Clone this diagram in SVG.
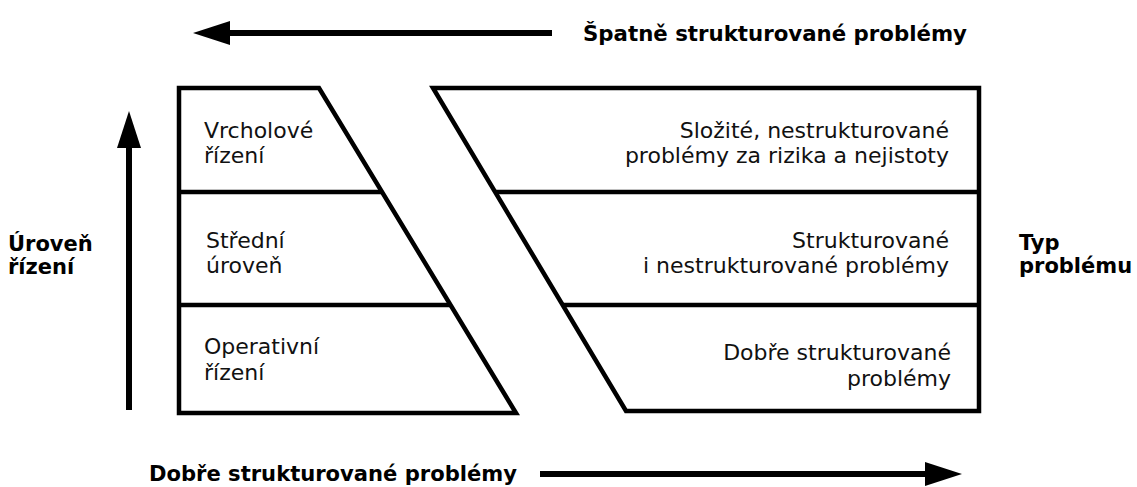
<svg xmlns="http://www.w3.org/2000/svg" width="1137" height="487" viewBox="0 0 1137 487">
<style>
.shape{fill:none;stroke:#000;stroke-width:4.5;stroke-linejoin:miter}
.div{stroke:#000;stroke-width:4.5}
.t{font-family:"DejaVu Sans",Verdana,sans-serif;font-size:22px;fill:#111}
.b{font-family:"DejaVu Sans","Liberation Sans",sans-serif;font-size:21px;font-weight:bold;fill:#000}
.ar{stroke:#000;stroke-width:6}
.r{text-anchor:end}
</style>
<defs>
<marker id="ah" viewBox="0 0 37 24" refX="0" refY="12" markerWidth="37" markerHeight="24" orient="auto" markerUnits="userSpaceOnUse">
<path d="M0,0 L37,12 L0,24 Z" fill="#000"/>
</marker>
</defs>
<rect width="1137" height="487" fill="#fff"/>
<g id="left-shape">
<path class="shape" d="M179,88 H319 L516,413 H179 Z"/>
<line class="div" x1="179" y1="192" x2="382" y2="192"/>
<line class="div" x1="179" y1="305" x2="450" y2="305"/>
</g>
<g id="right-shape">
<path class="shape" d="M433,88 H979 V411 H626 Z"/>
<line class="div" x1="495" y1="192" x2="979" y2="192"/>
<line class="div" x1="563" y1="305" x2="979" y2="305"/>
</g>
<g id="vrcholove">
<text class="t" x="204" y="138">Vrcholové</text>
<text class="t" x="204" y="163">řízení</text>
</g>
<g id="stredni">
<text class="t" x="206" y="248">Střední</text>
<text class="t" x="206" y="273">úroveň</text>
</g>
<g id="operativni">
<text class="t" x="204" y="354">Operativní</text>
<text class="t" x="204" y="380">řízení</text>
</g>
<g id="slozite">
<text class="t r" x="949" y="138">Složité, nestrukturované</text>
<text class="t r" x="949" y="163">problémy za rizika a nejistoty</text>
</g>
<g id="strukturovane">
<text class="t r" x="949" y="248">Strukturované</text>
<text class="t r" x="949" y="273">i nestrukturované problémy</text>
</g>
<g id="dobre">
<text class="t r" x="951" y="360">Dobře strukturované</text>
<text class="t r" x="951" y="386">problémy</text>
</g>
<g id="connectors">
<line class="ar" x1="552" y1="33" x2="230" y2="33" marker-end="url(#ah)"/>
<line class="ar" x1="540" y1="474" x2="925" y2="474" marker-end="url(#ah)"/>
<line class="ar" x1="129" y1="410" x2="129" y2="148" marker-end="url(#ah)"/>
</g>
<g id="labels">
<text class="b" x="583" y="41" textLength="384" lengthAdjust="spacingAndGlyphs">Špatně strukturované problémy</text>
<text class="b" x="149" y="481" textLength="368" lengthAdjust="spacingAndGlyphs">Dobře strukturované problémy</text>
<text class="b" x="8" y="251">Úroveň</text>
<text class="b" x="8" y="274">řízení</text>
<text class="b" x="1019" y="250">Typ</text>
<text class="b" x="1019" y="273">problému</text>
</g>
</svg>
